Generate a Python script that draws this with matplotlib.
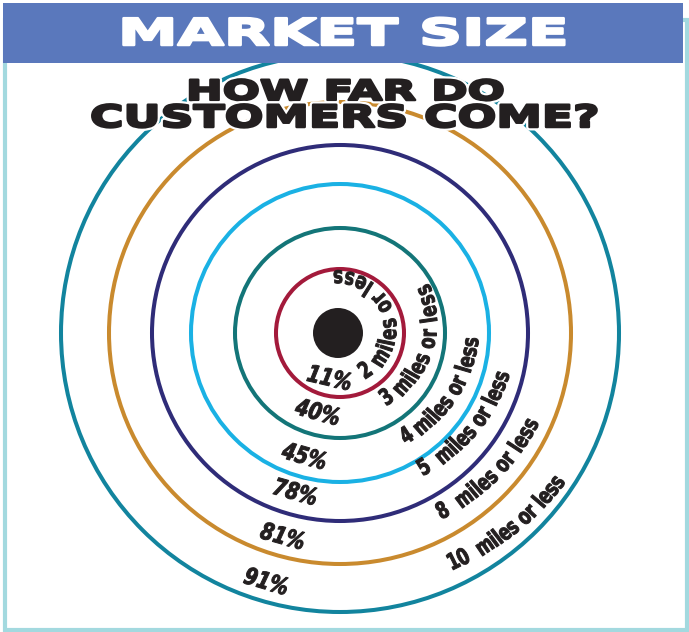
import numpy as np
import matplotlib
matplotlib.use('Agg')
import matplotlib.pyplot as plt
from matplotlib.patches import Circle, Rectangle
from matplotlib.patheffects import AbstractPathEffect
from matplotlib.transforms import Affine2D
from matplotlib.font_manager import FontProperties

# share of customers living within each distance of the store
distance_labels = ['2 miles or less', '3 miles or less', '4 miles or less',
                   '5  miles or less', '8  miles or less', '10  miles or less']
share_pct = [11, 40, 45, 78, 81, 91]

title = 'MARKET SIZE'
subtitle = ['HOW FAR DO', 'CUSTOMERS COME?']

#--------------------------------------
# layout (pixels, y measured up from the bottom)
#--------------------------------------
W, H = 689, 632
cx, cy = 340, H - 333

ring_r = [64, 105, 149, 188, 231, 279]
ring_col = ['#A31A3B', '#137578', '#1AB1E4', '#2F2C78', '#C98A2E', '#12849E']

# distance labels follow the inside of each ring:
# (angle of first char, angle of last char, radius at start, radius at end)
arc = [(-56, 92, 46, 56), (-54, 27, 80, 95), (-57, -4, 123, 132),
       (-58, -15, 159, 168), (-60, -25.5, 206, 212), (-63.6, -34.4, 256, 264)]
# percentage labels: (radius, angle)
pct_pos = [(47, -103), (83, -105.5), (129, -106), (166, -105.7),
           (212, -105.7), (260, -106.5)]

ink = '#231F20'
banner = '#5A78BC'
frame = '#A3D9DF'


class Squeeze(AbstractPathEffect):
    """Scale glyphs along their baseline (sx < 1 condenses, > 1 widens).
    With lw set it only strokes the outline in the given colour."""

    def __init__(self, sx, x0, y0=0.0, angle=0.0, lw=0.0, color=None):
        super().__init__()
        self.sx, self.x0, self.y0, self.angle = sx, x0, y0, angle
        self.lw, self.color = lw, color

    def draw_path(self, renderer, gc, tpath, affine, rgbFace=None):
        aff = affine + (Affine2D().translate(-self.x0, -self.y0)
                        .rotate_deg(-self.angle).scale(self.sx, 1)
                        .rotate_deg(self.angle).translate(self.x0, self.y0))
        if self.lw:
            gc0 = renderer.new_gc()
            gc0.copy_properties(gc)
            gc0.set_linewidth(self.lw)
            gc0.set_foreground(self.color)
            gc0.set_joinstyle('round')
            renderer.draw_path(gc0, tpath, aff, None)
            gc0.restore()
        else:
            renderer.draw_path(gc, tpath, aff, rgbFace)


fig = plt.figure(figsize=(W / 100, H / 100), dpi=100, facecolor='white')
ax = fig.add_axes([0, 0, 1, 1])
ax.set_xlim(0, W)
ax.set_ylim(0, H)
ax.axis('off')
renderer = fig.canvas.get_renderer()

# outer frame and banner
ax.add_patch(Rectangle((5, H - 630), 682, 610, fill=False, ec=frame,
                       lw=3.0, zorder=0))
ax.add_patch(Rectangle((3, H - 63), 680, 60, fc=banner, ec='none', zorder=4))

# rings
for r, c in zip(ring_r, ring_col):
    ax.add_patch(Circle((cx, cy), r, fill=False, ec=c, lw=2.9, zorder=1))
ax.add_patch(Circle((cx - 2, cy), 25, fc=ink, ec='none', zorder=2))


def wide_text(s, x, y, width, size, color, zorder, outline=None):
    t = ax.text(x, y, s, ha='center', va='baseline', fontsize=size,
                weight='bold', color=color, zorder=zorder)
    sx = width / t.get_window_extent(renderer).width
    x0 = ax.transData.transform((x, y))[0]
    fx = []
    if outline:
        fx.append(Squeeze(sx, x0, lw=5.0, color=outline))
    fx.append(Squeeze(sx, x0, lw=1.8, color=color))
    fx.append(Squeeze(sx, x0))
    t.set_path_effects(fx)


wide_text(title, 343, H - 45, 450, 26.5, 'white', 5)
wide_text(subtitle[0], 345, H - 100, 318, 20, ink, 3, outline='white')
wide_text(subtitle[1], 344, H - 127, 508, 22, ink, 3, outline='white')

fp = FontProperties(family='DejaVu Sans', weight='bold', size=16.5)
fp_pct = FontProperties(family='DejaVu Sans', weight='bold', style='oblique',
                        size=17)
k = 0.72


def char_w(ch):
    bar = renderer.get_text_width_height_descent('||', fp, ismath=False)[0]
    return renderer.get_text_width_height_descent('|' + ch + '|', fp,
                                                  ismath=False)[0] - bar


def arc_text(s, a0, a1, r0, r1):
    ws = np.array([char_w(ch) for ch in s])
    mid = np.cumsum(ws) - ws / 2
    t = (mid - mid[0]) / (mid[-1] - mid[0])
    for ch, ti in zip(s, t):
        if ch == ' ':
            continue
        a = a0 + ti * (a1 - a0)
        r = r0 + ti * (r1 - r0)
        x = cx + r * np.cos(np.radians(a))
        y = cy + r * np.sin(np.radians(a))
        rot = a + 90
        px, py = ax.transData.transform((x, y))
        ax.text(x, y, ch, fontproperties=fp, color=ink, rotation=rot,
                rotation_mode='anchor', ha='center', va='center', zorder=3,
                path_effects=[Squeeze(k, px, py, rot, lw=0.7, color=ink),
                              Squeeze(k, px, py, rot)])


for s, (a0, a1, r0, r1) in zip(distance_labels, arc):
    arc_text(s, a0, a1, r0, r1)

for p, (r, a) in zip(share_pct, pct_pos):
    x = cx + r * np.cos(np.radians(a))
    y = cy + r * np.sin(np.radians(a))
    rot = a + 90
    px, py = ax.transData.transform((x, y))
    ax.text(x, y, '%d%%' % p, fontproperties=fp_pct, color=ink, rotation=rot,
            rotation_mode='anchor', ha='center', va='center', zorder=3,
            path_effects=[Squeeze(0.8, px, py, rot, lw=0.7, color=ink),
                          Squeeze(0.8, px, py, rot)])

fig.savefig('out.png', dpi=100, facecolor='white')
